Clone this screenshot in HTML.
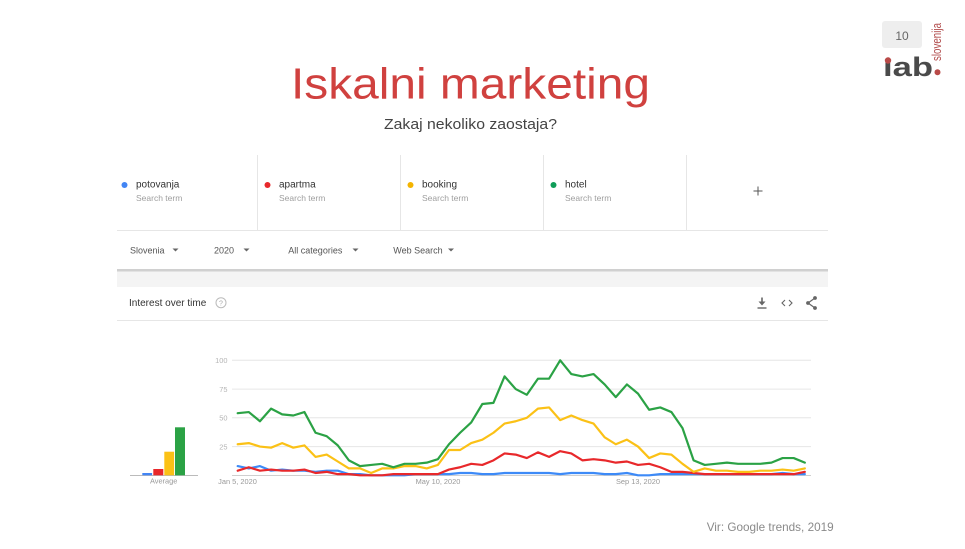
<!DOCTYPE html>
<html><head><meta charset="utf-8"><style>
html,body{margin:0;padding:0;background:#fff;}
svg{display:block;font-family:"Liberation Sans",Arial,sans-serif;}
</style></head><body>
<svg width="965" height="549" viewBox="0 0 965 549" xmlns="http://www.w3.org/2000/svg">
<rect width="965" height="549" fill="#fff"/>
<!-- logo -->
<rect x="882" y="21" width="40" height="27" rx="3" fill="#eeeeee"/>
<text x="902" y="40" font-size="12" fill="#666" text-anchor="middle">10</text>
<text x="883" y="76" font-size="27" font-weight="bold" fill="#4a4a4a" textLength="50" lengthAdjust="spacingAndGlyphs">ıab</text>
<circle cx="888" cy="60.5" r="3.2" fill="#b94a48"/>
<circle cx="937.5" cy="72.3" r="3" fill="#b94a48"/>
<text transform="translate(941,61) rotate(-90)" font-size="13" fill="#b24c4c" textLength="38" lengthAdjust="spacingAndGlyphs">slovenija</text>
<!-- titles -->
<text x="470.5" y="98.3" font-size="44" fill="#d0413f" text-anchor="middle" textLength="359" lengthAdjust="spacingAndGlyphs">Iskalni marketing</text>
<text x="470.5" y="129" font-size="15" fill="#444" text-anchor="middle" textLength="173" lengthAdjust="spacingAndGlyphs">Zakaj nekoliko zaostaja?</text>
<text x="706.7" y="531" font-size="12" fill="#8a8a8a" textLength="127" lengthAdjust="spacingAndGlyphs">Vir: Google trends, 2019</text>

<!-- terms row -->
<g stroke="#e6e6e6" stroke-width="1">
<line x1="257.5" y1="155" x2="257.5" y2="230"/>
<line x1="400.5" y1="155" x2="400.5" y2="230"/>
<line x1="543.5" y1="155" x2="543.5" y2="230"/>
<line x1="686.5" y1="155" x2="686.5" y2="230"/>
<line x1="117" y1="230.5" x2="828" y2="230.5"/>
</g>
<circle cx="124.5" cy="185" r="3" fill="#4285f4"/>
<text x="136" y="187.3" font-size="10" fill="#333">potovanja</text>
<text x="136" y="201" font-size="8.5" fill="#9e9e9e">Search term</text>
<circle cx="267.5" cy="185" r="3" fill="#e8282b"/>
<text x="279" y="187.3" font-size="10" fill="#333">apartma</text>
<text x="279" y="201" font-size="8.5" fill="#9e9e9e">Search term</text>
<circle cx="410.5" cy="185" r="3" fill="#f4b400"/>
<text x="422" y="187.3" font-size="10" fill="#333">booking</text>
<text x="422" y="201" font-size="8.5" fill="#9e9e9e">Search term</text>
<circle cx="553.5" cy="185" r="3" fill="#0f9d58"/>
<text x="565" y="187.3" font-size="10" fill="#333">hotel</text>
<text x="565" y="201" font-size="8.5" fill="#9e9e9e">Search term</text>
<g stroke="#555" stroke-width="1"><line x1="753.5" y1="191" x2="762.5" y2="191"/><line x1="758" y1="186.5" x2="758" y2="195.5"/></g>

<!-- filters row -->
<text x="130" y="253.3" font-size="9" fill="#555">Slovenia</text>
<path d="M172.5 248.5 L178.5 248.5 L175.5 251.5 Z" fill="#666"/>
<text x="214" y="253.3" font-size="9" fill="#555">2020</text>
<path d="M243.5 248.5 L249.5 248.5 L246.5 251.5 Z" fill="#666"/>
<text x="288.3" y="253.3" font-size="9" fill="#555">All categories</text>
<path d="M352.5 248.5 L358.5 248.5 L355.5 251.5 Z" fill="#666"/>
<text x="393.3" y="253.3" font-size="9" fill="#555">Web Search</text>
<path d="M448 248.5 L454 248.5 L451 251.5 Z" fill="#666"/>

<rect x="117" y="269" width="711" height="2.5" fill="#d0d0d0"/>
<rect x="117" y="271.5" width="711" height="15.5" fill="#f4f4f4"/>

<!-- interest over time header -->
<text x="129" y="306" font-size="10" fill="#333">Interest over time</text>
<circle cx="221" cy="302.7" r="5" fill="none" stroke="#bbb" stroke-width="1"/>
<text x="221" y="305.5" font-size="7" fill="#aaa" text-anchor="middle">?</text>
<line x1="117" y1="320.5" x2="828" y2="320.5" stroke="#e6e6e6" stroke-width="1"/>
<!-- icons -->
<g fill="#666" stroke="#666">
<line x1="762" y1="297.5" x2="762" y2="304" stroke-width="1.6"/>
<path d="M758.5 301.5 L765.5 301.5 L762 305.5 Z" stroke="none"/>
<line x1="757.5" y1="308" x2="766.5" y2="308" stroke-width="1.4"/>
</g>
<g fill="none" stroke="#666" stroke-width="1.1">
<polyline points="785,300 782,303 785,306"/>
<polyline points="789,300 792,303 789,306"/>
<line x1="815" y1="298" x2="808" y2="303" stroke-width="1.2"/>
<line x1="815" y1="308" x2="808" y2="303" stroke-width="1.2"/>
</g>
<g fill="#666"><circle cx="815" cy="298" r="1.9"/><circle cx="808" cy="303" r="1.9"/><circle cx="815" cy="308" r="1.9"/></g>

<!-- chart grid -->
<g stroke="#e6e6e6" stroke-width="1">
<line x1="232" y1="360.3" x2="811" y2="360.3"/>
<line x1="232" y1="389.1" x2="811" y2="389.1"/>
<line x1="232" y1="417.8" x2="811" y2="417.8"/>
<line x1="232" y1="446.6" x2="811" y2="446.6"/>
</g>
<line x1="232" y1="475.5" x2="811" y2="475.5" stroke="#cfcfcf" stroke-width="1"/>
<g font-size="7.4" fill="#b5b5b5" text-anchor="end">
<text x="227.5" y="363">100</text>
<text x="227.5" y="391.8">75</text>
<text x="227.5" y="420.5">50</text>
<text x="227.5" y="449.3">25</text>
</g>
<g font-size="7.4" fill="#999" text-anchor="middle">
<text x="237.5" y="484">Jan 5, 2020</text>
<text x="438" y="484">May 10, 2020</text>
<text x="638" y="484">Sep 13, 2020</text>
<text x="163.7" y="483.3">Average</text>
</g>

<!-- average bars -->
<line x1="130" y1="475.5" x2="198" y2="475.5" stroke="#bbb" stroke-width="1"/>
<rect x="142.3" y="473" width="9.8" height="2.3" fill="#4285f4"/>
<rect x="153.3" y="469" width="10" height="6.3" fill="#e8282b"/>
<rect x="164.3" y="451.7" width="9.8" height="23.6" fill="#fbc116"/>
<rect x="175" y="427.3" width="10" height="48" fill="#2ba245"/>

<!-- series -->
<g transform="translate(237.7,475.3) scale(11.12,-1.15)" fill="none" stroke-width="2.2" stroke-linejoin="round" stroke-linecap="round">
<polyline vector-effect="non-scaling-stroke" stroke="#3d8af7" points="0,8 1,6 2,8 3,4 4,5 5,4 6,4 7,3 8,4 9,4 10,1 11,1 12,0 13,0 14,0 15,0 16,1 17,1 18,1 19,1 20,2 21,2 22,1 23,1 24,2 25,2 26,2 27,2 28,2 29,1 30,2 31,2 32,2 33,1 34,1 35,2 36,0 37,0 38,1 39,1 40,1 41,1 42,1 43,1 44,1 45,1 46,1 47,1 48,1 49,2 50,1 51,1"/>
<polyline vector-effect="non-scaling-stroke" stroke="#e8282b" points="0,4 1,7 2,4 3,5 4,4 5,4 6,5 7,2 8,3 9,1 10,1 11,0 12,0 13,0 14,1 15,1 16,1 17,1 18,1 19,5 20,7 21,10 22,9 23,13 24,19 25,18 26,15 27,20 28,16 29,21 30,19 31,13 32,14 33,13 34,11 35,12 36,9 37,10 38,7 39,3 40,3 41,2 42,1 43,1 44,1 45,1 46,1 47,1 48,1 49,1 50,1 51,3"/>
<polyline vector-effect="non-scaling-stroke" stroke="#fbc116" points="0,27 1,28 2,25 3,24 4,28 5,24 6,26 7,16 8,18 9,12 10,6 11,6 12,2 13,6 14,6 15,8 16,8 17,6 18,9 19,22 20,22 21,28 22,31 23,37 24,45 25,47 26,50 27,58 28,59 29,48 30,52 31,48 32,45 33,33 34,27 35,31 36,25 37,15 38,19 39,18 40,10 41,3 42,6 43,4 44,4 45,3 46,3 47,4 48,4 49,5 50,4 51,6"/>
<polyline vector-effect="non-scaling-stroke" stroke="#2ba245" points="0,54 1,55 2,47 3,58 4,53 5,52 6,55 7,37 8,34 9,26 10,13 11,8 12,9 13,10 14,7 15,10 16,10 17,11 18,14 19,27 20,37 21,46 22,62 23,63 24,86 25,75 26,70 27,84 28,84 29,100 30,88 31,86 32,88 33,79 34,68 35,79 36,71 37,57 38,59 39,55 40,41 41,13 42,9 43,10 44,11 45,10 46,10 47,10 48,11 49,15 50,15 51,11"/>
</g>
</svg>
</body></html>
